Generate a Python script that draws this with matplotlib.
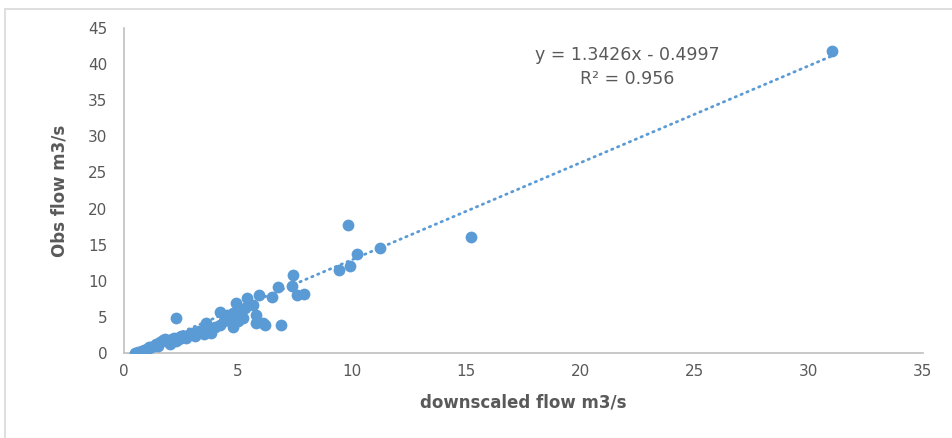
import numpy as np
import matplotlib
matplotlib.use("Agg")
import matplotlib.pyplot as plt
from matplotlib.patches import Rectangle

# downscaled flow (x) vs observed flow (y), m3/s
downscaled = [0.5, 0.6, 0.7, 0.75, 0.8, 0.9, 1.0, 1.0, 1.1, 1.2, 1.3, 1.4, 1.5,
              1.5, 1.6, 1.7, 1.8, 1.9, 2.0, 2.0, 2.1, 2.2, 2.3, 2.3, 2.4, 2.5,
              2.6, 2.7, 2.8, 2.9, 3.0, 3.1, 3.3, 3.5, 3.5, 3.6, 3.7, 3.8, 4.0,
              4.2, 4.2, 4.4, 4.5, 4.5, 4.6, 4.8, 4.8, 4.9, 5.0, 5.1, 5.2, 5.3,
              5.4, 5.65, 5.8, 5.8, 5.9, 6.1, 6.2, 6.5, 6.75, 6.9, 7.35, 7.4,
              7.6, 7.9, 9.4, 9.8, 9.9, 10.2, 11.2, 15.2, 31.0]
observed = [0.0, 0.1, 0.2, 0.1, 0.3, 0.4, 0.6, 0.4, 0.8, 0.9, 1.0, 1.2, 1.3,
            1.0, 1.5, 1.8, 2.0, 1.7, 1.6, 1.3, 1.9, 2.1, 4.8, 1.7, 2.0, 2.3,
            2.2, 2.1, 2.5, 2.6, 2.8, 2.4, 3.0, 3.3, 2.7, 4.2, 3.5, 2.8, 3.6,
            5.7, 3.9, 4.5, 4.8, 5.2, 5.0, 5.5, 3.6, 6.9, 4.5, 5.6, 4.8, 6.3,
            7.6, 6.6, 5.3, 4.2, 8.0, 4.1, 3.9, 7.8, 9.1, 3.9, 9.3, 10.8,
            8.0, 8.2, 11.5, 17.7, 12.1, 13.7, 14.6, 16.1, 41.8]

slope = 1.3426
intercept = -0.4997
r2 = 0.956

blue = "#5B9BD5"
grey = "#595959"

fig = plt.figure(figsize=(9.53, 4.38), dpi=100)
fig.patches.append(Rectangle((0.005, -0.02), 1.2, 1.0, transform=fig.transFigure,
                             fill=False, edgecolor="#D9D9D9", lw=1.2))
ax = fig.add_axes([0.130, 0.194, 0.8385, 0.742])

ax.scatter(downscaled, observed, s=72, color=blue, zorder=3, linewidths=0)

xl = np.array([min(downscaled), max(downscaled)])
ax.plot(xl, slope * xl + intercept, color=blue, lw=2.0, ls=(0, (0.5, 1.8)),
        dash_capstyle="round", zorder=2)

ax.set_xlim(0, 35)
ax.set_ylim(0, 45)
ax.set_xticks(range(0, 36, 5))
ax.set_yticks(range(0, 46, 5))
for s in ["top", "right"]:
    ax.spines[s].set_visible(False)
for s in ["left", "bottom"]:
    ax.spines[s].set_color("#BFBFBF")
    ax.spines[s].set_linewidth(1.2)
ax.tick_params(length=0, labelsize=11, labelcolor=grey, pad=8)
ax.tick_params(axis="y", pad=12)

ax.set_xlabel("downscaled flow m3/s", fontsize=12, fontweight="bold", color=grey, labelpad=10)
ax.set_ylabel("Obs flow m3/s", fontsize=12, fontweight="bold", color=grey, labelpad=14)

ax.text(0.63, 0.945, "y = 1.3426x - 0.4997\nR² = %.3f" % r2, transform=ax.transAxes,
        ha="center", va="top", fontsize=12.5, color=grey, linespacing=1.4)

fig.savefig("out.png", dpi=100)
